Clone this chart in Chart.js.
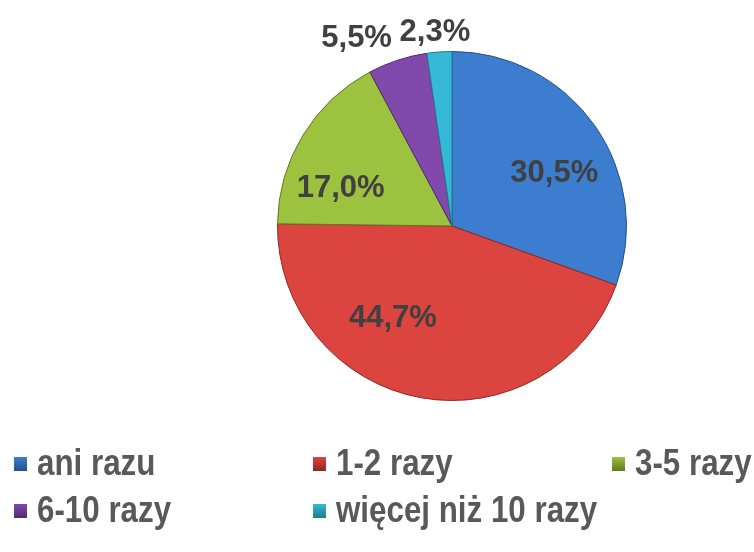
<!DOCTYPE html>
<html>
<head>
<meta charset="utf-8">
<script src="https://cdn.jsdelivr.net/npm/chart.js@4.4.1/dist/chart.umd.min.js"></script>
<style>
    html, body { margin: 0; padding: 0; background: #fff; }
    #wrap { position: relative; width: 754px; height: 552px; }
    #chart { position: absolute; left: 0; top: 0; }
    .legend-item {
        position: absolute;
        white-space: nowrap;
    }
    .legend-text {
        position: absolute;
        left: 23px;
        top: 0;
        font: bold 36px "Liberation Sans", Arial, sans-serif;
        line-height: 36px;
        color: #595959;
        transform: scaleX(0.87);
        transform-origin: 0 0;
    }
    .legend-box {
        position: absolute;
        left: 0;
        top: 12px;
        width: 13px;
        height: 14px;
    }
</style>
</head>
<body>
<div id="wrap">
    <canvas id="chart" width="754" height="552"></canvas>
    <div id="legend"></div>
</div>
<script>
const categories = ['ani razu', '1-2 razy', '3-5 razy', '6-10 razy', 'więcej niż 10 razy'];
const shares = [30.5, 44.7, 17.0, 5.5, 2.3];

const sliceColors = ['#3d7dcf', '#dc4440', '#9dc23f', '#8149ac', '#36b9d6'];
const sliceBorders = ['#23508c', '#8e2522', '#5f7a22', '#4f2a6d', '#1f7a8f'];

// where each value label sits: fraction of radius and angle shift in degrees
const labelSpots = [[0.658, 8.1], [0.628, 22.4], [0.674, -12.5], [1.205, -8.8], [1.113, -0.9]];

document.addEventListener('DOMContentLoaded', function() {
    showChart();
    buildLegend();
});

function formatShare(v) {
    return v.toFixed(1).replace('.', ',') + '%';
}

const valueLabels = {
    id: 'valueLabels',
    afterDatasetsDraw(chart) {
        const ctx = chart.ctx;
        const meta = chart.getDatasetMeta(0);
        ctx.save();
        ctx.font = 'bold 31px "Liberation Sans", Arial, sans-serif';
        ctx.fillStyle = '#404040';
        ctx.textAlign = 'center';
        ctx.textBaseline = 'middle';
        meta.data.forEach(function(arc, i) {
            const p = arc.getProps(['x', 'y', 'startAngle', 'endAngle', 'outerRadius'], true);
            const spot = labelSpots[i];
            const mid = (p.startAngle + p.endAngle) / 2 + spot[1] * Math.PI / 180;
            const r = p.outerRadius * spot[0];
            ctx.fillText(formatShare(shares[i]), p.x + Math.cos(mid) * r, p.y + Math.sin(mid) * r);
        });
        ctx.restore();
    }
};

function showChart() {
    const canvasChart = document.getElementById('chart')?.getContext('2d');
    if (canvasChart) {
        new Chart(canvasChart, {
            type: 'pie',
            data: {
                labels: categories,
                datasets: [
                    {
                        data: shares,
                        backgroundColor: sliceColors,
                        borderColor: sliceBorders,
                        borderWidth: 1
                    }
                ]
            },
            options: {
                responsive: false,
                animation: false,
                layout: {
                    padding: { left: 277, right: 127, top: 51, bottom: 151 }
                },
                plugins: {
                    legend: { display: false },
                    tooltip: { enabled: false }
                }
            },
            plugins: [valueLabels]
        });
    }
}

function buildLegend() {
    const legend = document.getElementById('legend');
    const cols = [14, 313, 612];
    const rows = [445, 492];
    categories.forEach(function(name, i) {
        const item = document.createElement('div');
        item.className = 'legend-item';
        item.style.left = cols[i % 3] + 'px';
        item.style.top = rows[Math.floor(i / 3)] + 'px';
        const box = document.createElement('span');
        box.className = 'legend-box';
        box.style.background = 'linear-gradient(180deg, ' + sliceColors[i] + ', ' + sliceBorders[i] + ')';
        const text = document.createElement('span');
        text.className = 'legend-text';
        text.textContent = name;
        item.appendChild(box);
        item.appendChild(text);
        legend.appendChild(item);
    });
}
</script>
</body>
</html>
